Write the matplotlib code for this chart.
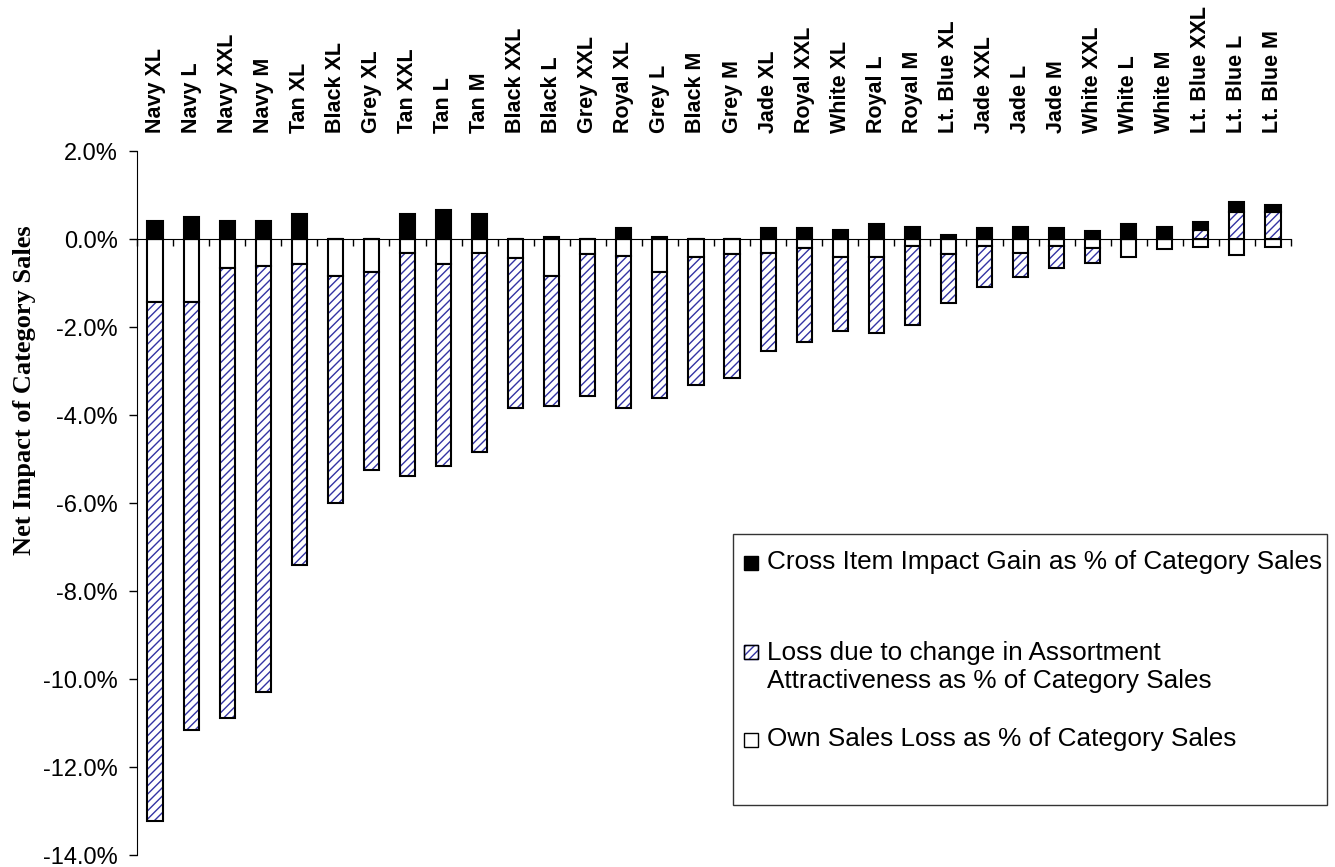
import numpy as np
import matplotlib
matplotlib.use("Agg")
import matplotlib.pyplot as plt
from matplotlib.patches import Rectangle

# Items, sorted as in the chart
items = ["Navy XL", "Navy L", "Navy XXL", "Navy M", "Tan XL", "Black XL", "Grey XL",
         "Tan XXL", "Tan L", "Tan M", "Black XXL", "Black L", "Grey XXL", "Royal XL",
         "Grey L", "Black M", "Grey M", "Jade XL", "Royal XXL", "White XL", "Royal L",
         "Royal M", "Lt. Blue XL", "Jade XXL", "Jade L", "Jade M", "White XXL",
         "White L", "White M", "Lt. Blue XXL", "Lt. Blue L", "Lt. Blue M"]

# Own sales loss (% of category sales)
own_loss = [-1.44, -1.44, -0.65, -0.61, -0.57, -0.84, -0.76, -0.31, -0.57, -0.31,
            -0.43, -0.85, -0.35, -0.39, -0.76, -0.40, -0.35, -0.31, -0.21, -0.40,
            -0.40, -0.16, -0.35, -0.16, -0.31, -0.16, -0.21, -0.41, -0.23, -0.19,
            -0.37, -0.19]

# Loss due to change in assortment attractiveness (% of category sales)
assort_loss = [-11.79, -9.72, -10.23, -9.69, -6.85, -5.17, -4.49, -5.07, -4.58, -4.53,
               -3.42, -2.95, -3.22, -3.46, -2.86, -2.91, -2.82, -2.23, -2.14, -1.68,
               -1.74, -1.79, -1.10, -0.92, -0.55, -0.51, -0.34, 0.0, 0.0, 0.21,
               0.61, 0.61]

# Cross item impact gain (% of category sales)
cross_gain = [0.42, 0.51, 0.42, 0.42, 0.56, 0.0, 0.0, 0.56, 0.65, 0.56,
              0.0, 0.05, 0.0, 0.24, 0.05, 0.0, 0.0, 0.24, 0.24, 0.20,
              0.33, 0.28, 0.10, 0.24, 0.28, 0.24, 0.19, 0.33, 0.28, 0.17,
              0.22, 0.17]

labels = ["Cross Item Impact Gain as % of Category Sales",
          "Loss due to change in Assortment\nAttractiveness as % of Category Sales",
          "Own Sales Loss as % of Category Sales"]

W, H = 1335, 867
hatch_col = "#3434a4"
plt.rcParams["hatch.linewidth"] = 1.0

fig = plt.figure(figsize=(W / 100, H / 100), dpi=100)
ax_bottom = 855
ax = fig.add_axes([137 / W, 1 - ax_bottom / H, (1291 - 137) / W, (ax_bottom - 151) / H])

x = np.arange(len(items))
own = np.array(own_loss)
assort = np.array(assort_loss)
gain = np.array(cross_gain)
bw = 0.42

hatch_bottom = np.where(assort < 0, own, 0)
gain_bottom = np.where(assort > 0, assort, 0)

# own sales loss (white)
ax.bar(x, own, bw, color="white", edgecolor="black", linewidth=1.5, zorder=3)
# assortment loss (hatched) - hatch first, then black outline on top
ax.bar(x, assort, bw, bottom=hatch_bottom, color="white", edgecolor=hatch_col,
       hatch="////", linewidth=0, zorder=3)
ax.bar(x, assort, bw, bottom=hatch_bottom, fill=False, edgecolor="black",
       linewidth=1.5, zorder=4)
# cross item gain (black)
ax.bar(x, gain, bw, bottom=gain_bottom, color="black", edgecolor="black",
       linewidth=1.5, zorder=4)

ax.set_xlim(-0.5, len(items) - 0.5)
ax.set_ylim(-14, 2)
ax.set_yticks(np.arange(-14, 2.1, 2))
ax.set_yticklabels(["%.1f%%" % v for v in np.arange(-14, 2.1, 2)],
                   fontsize=17, family="Liberation Sans")
ax.tick_params(axis="y", direction="out", length=6, width=1, pad=8)

# x axis sits at zero, ticks between the categories
for s in ["top", "right"]:
    ax.spines[s].set_visible(False)
ax.spines["bottom"].set_position(("data", 0))
ax.spines["bottom"].set_zorder(5)
ax.set_xticks(np.arange(-0.5, len(items), 1))
ax.set_xticklabels([])
ax.tick_params(axis="x", direction="out", length=5, width=1)

# category names on top
top = ax.secondary_xaxis("top")
top.set_xticks(x)
top.set_xticklabels(items, rotation=90, fontsize=15.5, fontweight="bold",
                    family="Liberation Sans")
top.tick_params(length=0, pad=13)
top.spines["top"].set_visible(False)

ax.set_ylabel("Net Impact of Category Sales", fontsize=19, fontweight="bold",
              family="Liberation Serif")
ax.yaxis.set_label_coords((36 - 137) / 1154, (ax_bottom - 390) / (ax_bottom - 151))

# legend box drawn by hand to keep the Excel spacing
fig.add_artist(Rectangle((733 / W, 1 - 805 / H), 594 / W, 271 / H,
                         transform=fig.transFigure, facecolor="white",
                         edgecolor="#333333", linewidth=1.0, zorder=10))
hx, hs = 744 / W, 14
rows = [563, 652, 740]
text_y = [562, 667, 739]
styles = [dict(facecolor="black", edgecolor="black"),
          dict(facecolor="white", edgecolor=hatch_col, hatch="////"),
          dict(facecolor="white", edgecolor="black")]
for ry, ty, lab, st in zip(rows, text_y, labels, styles):
    fig.add_artist(Rectangle((hx, 1 - (ry + hs / 2) / H), hs / W, hs / H,
                             transform=fig.transFigure, linewidth=1.0,
                             zorder=11, **st))
    if "hatch" in st:
        fig.add_artist(Rectangle((hx, 1 - (ry + hs / 2) / H), hs / W, hs / H,
                                 transform=fig.transFigure, fill=False,
                                 edgecolor="black", linewidth=1.0, zorder=12))
    fig.text(767 / W, 1 - ty / H, lab, fontsize=18.8, family="Liberation Sans",
             va="center", ha="left", linespacing=1.22, zorder=12)

fig.savefig("out.png", dpi=100)
